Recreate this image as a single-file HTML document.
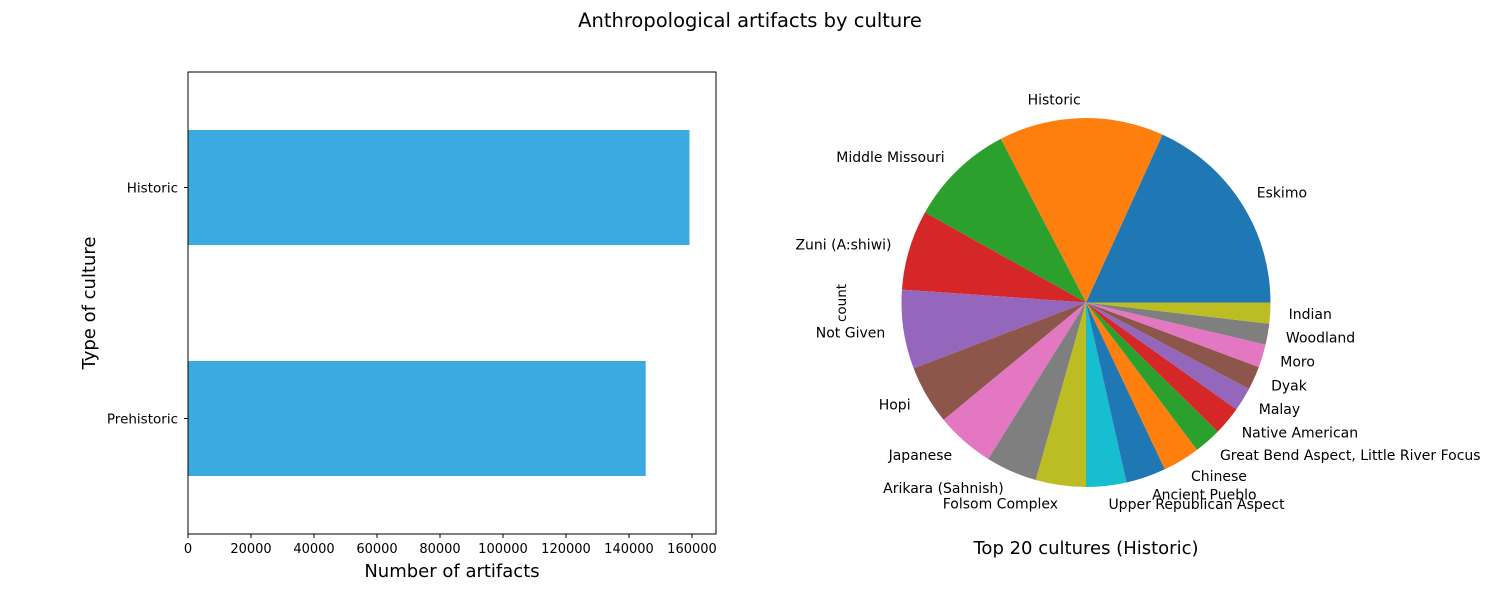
<!DOCTYPE html>
<html><head><meta charset="utf-8"><style>
body{margin:0;background:#fff;}
svg{display:block;font-family:"DejaVu Sans","Liberation Sans",sans-serif;}
</style></head><body>
<svg id="c" width="1500" height="600">
<text x="750" y="27" text-anchor="middle" font-size="19.5">Anthropological artifacts by culture</text>
<g id="bar"></g>
<g id="pie"></g>
</svg>
<script>
const barCats = ["Historic","Prehistoric"];
const barVals = [159200, 145300];
const xTicks = [0,20000,40000,60000,80000,100000,120000,140000,160000];
const pieLabels = ["Eskimo","Historic","Middle Missouri","Zuni (A:shiwi)","Not Given","Hopi","Japanese","Arikara (Sahnish)","Folsom Complex","Upper Republican Aspect","Ancient Pueblo","Chinese","Great Bend Aspect, Little River Focus","Native American","Malay","Dyak","Moro","Woodland","Indian"];
const pieVals = [6550,5200,3330,2520,2490,1860,1850,1620,1580,1270,1260,1170,860,900,750,740,730,660,660];
const NS="http://www.w3.org/2000/svg";
function mk(p,t,a,txt){const e=document.createElementNS(NS,t);for(const k in a)e.setAttribute(k,a[k]);if(txt!==undefined)e.textContent=txt;p.appendChild(e);return e;}
// bar chart
const bar=document.getElementById('bar');
const L=188,R=716,T=72,B=534;
const xs=v=>L+v*(692-188)/160000;
const ys=i=>T+(i+0.5)*(B-T)/2;
barCats.forEach((c,i)=>{
  const r=mk(bar,'rect',{x:xs(0),y:ys(i)-57.5,width:xs(barVals[i])-xs(0),height:115,fill:'#3aaae0'});
  
  
  mk(bar,'line',{x1:L-4,x2:L,y1:ys(i),y2:ys(i),stroke:'#000'});
  const t=mk(bar,'text',{x:L-10,y:ys(i)+5,'text-anchor':'end','font-size':13.5},c);
  
  
});
mk(bar,'rect',{x:L,y:T,width:R-L,height:B-T,fill:'none',stroke:'#000'});
xTicks.forEach(v=>{
  mk(bar,'line',{x1:xs(v),x2:xs(v),y1:B,y2:B+4,stroke:'#000'});
  const t=mk(bar,'text',{x:xs(v),y:B+19,'text-anchor':'middle','font-size':13},String(v));
  
  
});
let t=mk(bar,'text',{x:452,y:577,'text-anchor':'middle','font-size':18},'Number of artifacts');


t=mk(bar,'text',{x:95,y:303,'text-anchor':'middle','font-size':18,transform:'rotate(-90 95 303)'},'Type of culture');


// pie
const pie=document.getElementById('pie');
const cx=1086,cy=302.5,rad=184.5;
const cols=['#1f77b4','#ff7f0e','#2ca02c','#d62728','#9467bd','#8c564b','#e377c2','#7f7f7f','#bcbd22','#17becf'];
const tot=pieVals.reduce((a,b)=>a+b,0);
let a0=0;
pieVals.forEach((v,i)=>{
  const a1=a0+v/tot*2*Math.PI;
  const x0=cx+rad*Math.cos(a0),y0=cy-rad*Math.sin(a0),x1=cx+rad*Math.cos(a1),y1=cy-rad*Math.sin(a1);
  const lg=(a1-a0)>Math.PI?1:0;
  const p=mk(pie,'path',{d:`M${cx},${cy}L${x0},${y0}A${rad},${rad} 0 ${lg} 0 ${x1},${y1}Z`,fill:cols[i%10]});
  
  
  const m=(a0+a1)/2;
  const lx=cx+rad*1.1*Math.cos(m),ly=cy-rad*1.1*Math.sin(m);
  const tt=mk(pie,'text',{x:lx,y:ly+5,'text-anchor':Math.cos(m)>=0?'start':'end','font-size':14},pieLabels[i]);
  
  
  a0=a1;
});
t=mk(pie,'text',{x:846,y:303,'text-anchor':'middle','font-size':13.5,transform:'rotate(-90 846 303)'},'count');


t=mk(pie,'text',{x:1086,y:554,'text-anchor':'middle','font-size':18},'Top 20 cultures (Historic)');


</script>
</body></html>
